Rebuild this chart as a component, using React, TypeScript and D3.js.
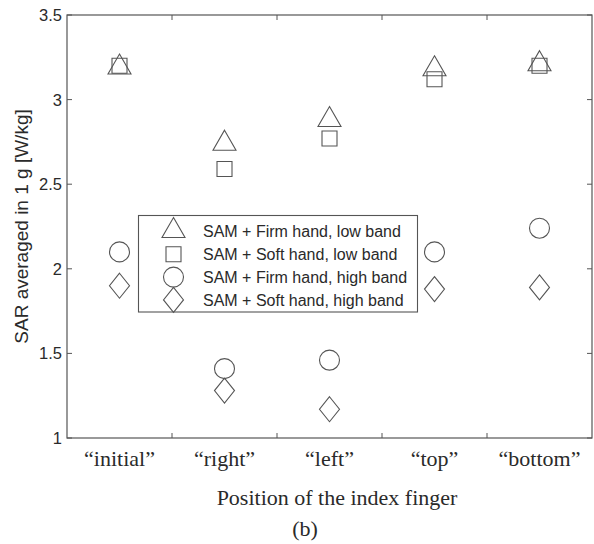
import React from "react";
import * as d3 from "d3";

// Finger positions along the x axis
const positions = ["\u201Cinitial\u201D", "\u201Cright\u201D", "\u201Cleft\u201D", "\u201Ctop\u201D", "\u201Cbottom\u201D"];

// SAR averaged in 1 g [W/kg] for each configuration
const firmLow = [3.21, 2.76, 2.9, 3.2, 3.23];
const softLow = [3.2, 2.59, 2.77, 3.12, 3.2];
const firmHigh = [2.1, 1.41, 1.46, 2.1, 2.24];
const softHigh = [1.9, 1.28, 1.17, 1.88, 1.89];

const yTicks = [1, 1.5, 2, 2.5, 3, 3.5];
const seriesNames = [
  "SAM + Firm hand, low band",
  "SAM + Soft hand, low band",
  "SAM + Firm hand, high band",
  "SAM + Soft hand, high band",
];

const W = 594;
const H = 544;
const plot = { left: 67, right: 592, top: 15, bottom: 438 };
const ink = "#555";
const textColor = "#2a2a2a";

type Shape = "triangle" | "square" | "circle" | "diamond";

function markerPath(shape: Shape, cx: number, cy: number): string {
  const p = d3.path();
  if (shape === "triangle") {
    const hw = 11.5, hh = 10;
    p.moveTo(cx, cy - hh);
    p.lineTo(cx + hw, cy + hh);
    p.lineTo(cx - hw, cy + hh);
    p.closePath();
  } else if (shape === "square") {
    const s = 7.5;
    p.rect(cx - s, cy - s, 2 * s, 2 * s);
  } else if (shape === "circle") {
    p.moveTo(cx + 10, cy);
    p.arc(cx, cy, 10, 0, Math.PI * 2);
  } else {
    const hw = 10, hh = 12.5;
    p.moveTo(cx, cy - hh);
    p.lineTo(cx + hw, cy);
    p.lineTo(cx, cy + hh);
    p.lineTo(cx - hw, cy);
    p.closePath();
  }
  return p.toString();
}

export default function App() {
  const x = d3
    .scaleBand<string>()
    .domain(positions)
    .range([plot.left, plot.right])
    .paddingInner(0)
    .paddingOuter(0);
  const y = d3.scaleLinear().domain([1, 3.5]).range([plot.bottom, plot.top]);
  const cx = (c: string) => (x(c) as number) + x.bandwidth() / 2;

  const series: { shape: Shape; values: number[] }[] = [
    { shape: "triangle", values: firmLow },
    { shape: "square", values: softLow },
    { shape: "circle", values: firmHigh },
    { shape: "diamond", values: softHigh },
  ];

  // tick boundaries between categories
  const xTickPos = positions.slice(1).map((c) => x(c) as number);
  const tickLen = 5;

  const legend = { x: 138.5, y: 215.5, w: 279, h: 96.5, rowY0: 231.5, rowStep: 22.8, markX: 173.5, textX: 203 };

  return (
    <svg width={W} height={H} style={{ display: "block", position: "absolute", left: 0, top: 0 }}>
      <rect x={0} y={0} width={W} height={H} fill="#ffffff" />

      {/* axes frame */}
      <rect
        x={plot.left}
        y={plot.top}
        width={plot.right - plot.left}
        height={plot.bottom - plot.top}
        fill="none"
        stroke={ink}
        strokeWidth={1.2}
      />

      {/* x ticks (bottom and top, inward) */}
      {xTickPos.map((px, i) => (
        <g key={"xt" + i} stroke={ink} strokeWidth={1}>
          <line x1={px} x2={px} y1={plot.bottom} y2={plot.bottom - tickLen} />
          <line x1={px} x2={px} y1={plot.top} y2={plot.top + tickLen} />
        </g>
      ))}

      {/* y ticks (left and right, inward) */}
      {yTicks.map((t) => (
        <g key={"yt" + t}>
          <line x1={plot.left} x2={plot.left + tickLen} y1={y(t)} y2={y(t)} stroke={ink} strokeWidth={1} />
          <line x1={plot.right} x2={plot.right - tickLen} y1={y(t)} y2={y(t)} stroke={ink} strokeWidth={1} />
          <text
            x={plot.left - 5}
            y={y(t)}
            dy="0.36em"
            textAnchor="end"
            fontFamily="Liberation Sans, Arial, sans-serif"
            fontSize={16.5}
            fill={textColor}
          >
            {String(t)}
          </text>
        </g>
      ))}

      {/* x tick labels */}
      {positions.map((c) => (
        <text
          key={"xl" + c}
          x={cx(c)}
          y={466}
          textAnchor="middle"
          fontFamily="Liberation Serif, Times New Roman, serif"
          fontSize={22}
          fill={textColor}
        >
          {c}
        </text>
      ))}

      {/* y axis title */}
      <text
        transform={`translate(28,${(plot.top + plot.bottom) / 2}) rotate(-90)`}
        textAnchor="middle"
        fontFamily="Liberation Sans, Arial, sans-serif"
        fontSize={19}
        fill={textColor}
      >
        SAR averaged in 1 g [W/kg]
      </text>

      {/* x axis title */}
      <text
        x={337}
        y={505}
        textAnchor="middle"
        fontFamily="Liberation Serif, Times New Roman, serif"
        fontSize={22}
        fill={textColor}
      >
        Position of the index finger
      </text>
      <text
        x={305}
        y={536}
        textAnchor="middle"
        fontFamily="Liberation Serif, Times New Roman, serif"
        fontSize={22}
        fill={textColor}
      >
        (b)
      </text>

      {/* data markers */}
      {series.map((s) =>
        s.values.map((v, i) => (
          <path
            key={s.shape + i}
            d={markerPath(s.shape, cx(positions[i]), y(v))}
            fill="none"
            stroke={ink}
            strokeWidth={1.1}
          />
        ))
      )}

      {/* legend */}
      <rect x={legend.x} y={legend.y} width={legend.w} height={legend.h} fill="#ffffff" stroke={ink} strokeWidth={1.1} />
      {series.map((s, i) => {
        const ry = legend.rowY0 + i * legend.rowStep;
        return (
          <g key={"lg" + i}>
            <path
              d={markerPath(s.shape, legend.markX, s.shape === "triangle" ? ry - 4 : ry)}
              fill="none"
              stroke={ink}
              strokeWidth={1.1}
            />
            <text
              x={legend.textX}
              y={ry}
              dy="0.36em"
              fontFamily="Liberation Sans, Arial, sans-serif"
              fontSize={16}
              fill={textColor}
            >
              {seriesNames[i]}
            </text>
          </g>
        );
      })}
    </svg>
  );
}
